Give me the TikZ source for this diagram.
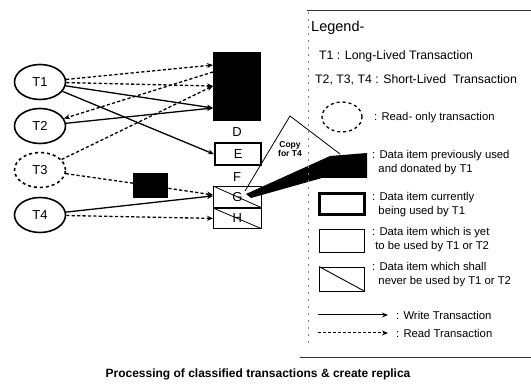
\documentclass[tikz,border=0pt]{standalone}
\usepackage{fontspec}
\setmainfont{Liberation Sans}
\usetikzlibrary{shapes.geometric,arrows.meta}
\begin{document}
\begin{tikzpicture}[x=1pt,y=-1pt,
  tnode/.style={ellipse,draw,line width=1.6pt,minimum width=51pt,minimum height=35pt,inner sep=0pt,font=\fontsize{13}{13}\selectfont},
  wr/.style={line width=1.3pt,-{Stealth[length=6pt,width=5pt]}},
  rd/.style={line width=1.3pt,dash pattern=on 3.2pt off 2.2pt,-{Stealth[length=6pt,width=5pt]}},
  rdn/.style={line width=1.3pt,dash pattern=on 3.2pt off 2.2pt},
  itembox/.style={draw,anchor=north west,inner sep=0pt,font=\fontsize{13}{13}\selectfont},
  lbl/.style={inner sep=0pt,font=\fontsize{13}{13}\selectfont},
  legtxt/.style={anchor=west,inner sep=0pt,align=left,font=\fontsize{11.3}{14}\selectfont},
  legtop/.style={anchor=west,inner sep=0pt,font=\fontsize{12.3}{14}\selectfont}
]
\useasboundingbox (0,0) rectangle (531,385);
% transactions
\node[tnode] (T1) at (40,82) {T1};
\node[tnode] (T2) at (40,126) {T2};
\node[tnode,dashed] (T3) at (40,170) {T3};
\node[tnode] (T4) at (40,215) {T4};
% data items
\node[fill=black,anchor=north west,minimum width=48pt,minimum height=69pt,inner sep=0pt] (blk) at (213,52) {};
\coordinate (b1) at (213,65);
\coordinate (b2) at (213,86);
\coordinate (b3) at (213,72);
\coordinate (b4) at (213,108);
\node[lbl] (D) at (237,132) {D};
\node[itembox,line width=2.4pt,minimum width=46pt,minimum height=22pt] (E) at (214,142) {E};
\node[lbl] (F) at (237,177) {F};
\node[itembox,line width=0.8pt,minimum width=48pt,minimum height=21pt] (G) at (213,186) {G};
\draw[line width=0.8pt] (G.north west) -- (G.south east);
\node[itembox,line width=0.8pt,minimum width=48pt,minimum height=20pt] (H) at (213,208) {H};
\draw[line width=0.8pt] (H.north west) -- (H.south east);
\node[fill=black,anchor=north west,minimum width=35pt,minimum height=25pt,inner sep=0pt] (sb) at (133,173) {};
% connectors
\draw[rd] (T1) -- (b1);
\draw[rd] (T1) -- (b2);
\draw[rd] (b3) -- (T2);
\draw[wr] (T1) -- (b4);
\draw[wr] (T2) -- (b4);
\draw[rd] (T3) -- (b2);
\draw[wr] (T1) -- (E.west);
\draw[rdn] (T3) -- (sb);
\draw[rd] (sb) -- ([yshift=2pt]G.west);
\draw[wr] (T4) -- ([yshift=1pt]G.west);
\draw[rd] (T4) -- (H.west);
% callout
\coordinate (cA) at (245,191);
\coordinate (cB) at (290,116);
\coordinate (cC) at (340,154);
\draw[line width=0.8pt] (cA) -- (cB) -- (cC);
\node[inner sep=0pt,align=center,font=\bfseries\fontsize{8.5}{9.5}\selectfont] (cp) at (290,149) {Copy\\for T4};
\fill[black] (246,194) -- (330,156) -- (367,153) -- (367,178) -- (322,178) -- (251,198) -- cycle;
% legend frame
\draw[line width=0.6pt,black!80] (307,10) -- (531,10);
\draw[line width=0.5pt,black!50,dash pattern=on 2pt off 5pt] (308,12) -- (308,345);
\draw[line width=0.6pt,black!80] (300,357) -- (531,357);
% legend
\node[anchor=west,inner sep=0pt,font=\fontsize{14.5}{15}\selectfont] (lg) at (311,28) {Legend-};
\node[legtop] (l1) at (319,56) {T1 : Long-Lived Transaction};
\node[legtop] (l2) at (315,80) {T2, T3, T4 : Short-Lived\ \ Transaction};
\node[ellipse,draw,dashed,line width=1.3pt,minimum width=40pt,minimum height=30pt] (le) at (342,117) {};
\node[legtxt] (l3) at (374,118) {: Read- only transaction};
\node[legtxt] (l4) at (372,163) {: Data item previously used\\\phantom{:~}and donated by T1};
\node[draw,line width=2.6pt,minimum width=45pt,minimum height=21pt,inner sep=0pt] (lb1) at (342,204) {};
\node[legtxt] (l5) at (372,205) {: Data item currently\\\phantom{:~}being used by T1};
\node[draw,line width=0.8pt,minimum width=45pt,minimum height=23pt,inner sep=0pt] (lb2) at (342,241) {};
\node[legtxt] (l6) at (372,240) {: Data item which is yet\\\phantom{:}to be used by T1 or T2};
\node[draw,line width=0.8pt,minimum width=45pt,minimum height=24pt,inner sep=0pt] (lb3) at (342,279) {};
\draw[line width=0.9pt] (lb3.north west) -- (lb3.south east);
\node[legtxt] (l7) at (372,275) {: Data item which shall\\\phantom{:~}never be used by T1 or T2};
\coordinate (w1) at (318,315);
\coordinate (w2) at (388,315);
\draw[line width=1pt,-{Stealth[length=6pt,width=5pt]}] (w1) -- (w2);
\node[legtxt] (l8) at (396,315) {: Write Transaction};
\coordinate (r1) at (318,333);
\coordinate (r2) at (388,333);
\draw[line width=1pt,dash pattern=on 3pt off 2pt,-{Stealth[length=6pt,width=5pt]}] (r1) -- (r2);
\node[legtxt] (l9) at (396,333) {: Read Transaction};
% caption
\node[inner sep=0pt,font=\bfseries\fontsize{12}{13}\selectfont] (cap) at (258,374) {Processing of classified transactions \& create replica};
\end{tikzpicture}
\end{document}
